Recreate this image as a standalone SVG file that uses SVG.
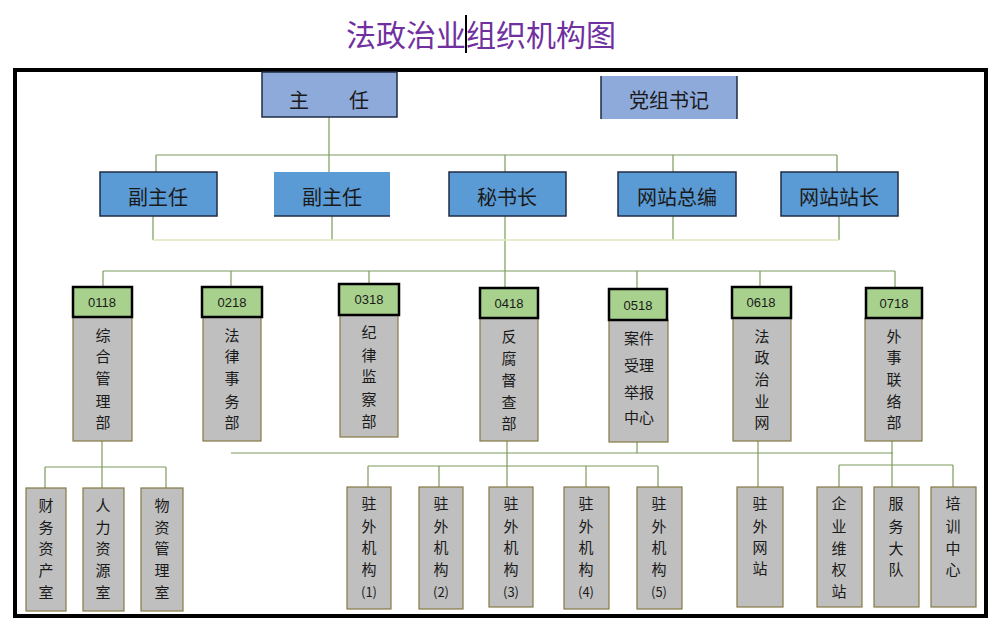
<svg xmlns="http://www.w3.org/2000/svg" width="1000" height="629" viewBox="0 0 1000 629">
<style>
.cjk{font-family:"Noto Sans CJK SC",sans-serif;fill:#1a1a1a;text-anchor:middle}
.t20{font-size:20px}
.t15{font-size:15px}
.num{font-family:"Liberation Sans",sans-serif;font-size:13px;fill:#1a1a1a;text-anchor:middle}
.lb{fill:#8eaadb;stroke:#1f2d44;stroke-width:1.5}
.mb{fill:#5b9bd5;stroke:#1f2d44;stroke-width:1.5}
.gh{fill:#a9d18e;stroke:#000;stroke-width:2.5}
.gb{fill:#bfbfbf;stroke:#857a45;stroke-width:1.2}
.ln{stroke:#7f9a5e;stroke-width:1.2;fill:none}
.lf{stroke:#dbe9bf;stroke-width:1.5;fill:none}
</style>
<rect width="1000" height="629" fill="#fff"/>
<text x="481" y="46" font-family="Noto Sans CJK SC, sans-serif" font-size="30" fill="#7030a0" text-anchor="middle">法政治业组织机构图</text>
<line x1="466" y1="15" x2="466" y2="53" stroke="#000" stroke-width="2"/>
<rect x="15" y="70" width="971" height="546" fill="none" stroke="#000" stroke-width="4"/>

<g id="connectors">
<path class="ln" d="M329 117V155M156 155H837M156 155V172M329 155V172M505 155V172M673 155V172M837 155V172"/>
<path class="ln" d="M153 216V240M332 216V240M673 216V240M839 216V240M505 216V288"/>
<path class="lf" d="M153 240H839"/>
<path class="ln" d="M103 271H895M103 271V287M231 271V287M369 271V284M760 271V287M637 271V289M895 271V288"/>
<path class="ln" d="M102 441V467M45 467H166M45 467V488M102 467V488M166 467V488"/>
<path class="ln" d="M231 453H893M507 441V487M637 442V453M758 441V487M892 441V487"/>
<path class="ln" d="M368 466H658M368 466V487M439 466V487M586 466V487M658 466V487"/>
<path class="ln" d="M839 465H953M839 465V487M953 465V487"/>
</g>

<g id="n-zhuren"><rect class="lb" x="262" y="72" width="135" height="45"/><text class="cjk t20" x="329" y="108">主　　任</text></g>
<g id="n-dangzu"><rect x="601" y="76" width="136" height="43" fill="#8eaadb"/><path d="M601 76V119M737 76V119" stroke="#1f2d44" stroke-width="1.5"/><text class="cjk t20" x="669" y="108">党组书记</text></g>

<g id="n-fzr1"><rect class="mb" x="100" y="172" width="117" height="44"/><text class="cjk t20" x="158" y="205">副主任</text></g>
<g id="n-fzr2"><rect x="274" y="172" width="116" height="44" fill="#5b9bd5"/><path d="M274 216H390" stroke="#1f2d44" stroke-width="1.5"/><text class="cjk t20" x="332" y="205">副主任</text></g>
<g id="n-msz"><rect class="mb" x="449" y="172" width="117" height="44"/><text class="cjk t20" x="507" y="205">秘书长</text></g>
<g id="n-wzzb"><rect class="mb" x="618" y="172" width="118" height="44"/><text class="cjk t20" x="677" y="205">网站总编</text></g>
<g id="n-wzzz"><rect class="mb" x="781" y="172" width="117" height="44"/><text class="cjk t20" x="839" y="205">网站站长</text></g>

<g id="n-0118"><rect class="gb" x="73" y="317" width="59" height="124"/><rect class="gh" x="73" y="287" width="59" height="30"/><text class="num" x="102" y="307">0118</text>
<text class="cjk t15"><tspan x="103" y="341">综</tspan><tspan x="103" y="362">合</tspan><tspan x="103" y="384">管</tspan><tspan x="103" y="407">理</tspan><tspan x="103" y="428">部</tspan></text></g>
<g id="n-0218"><rect class="gb" x="203" y="317" width="58" height="124"/><rect class="gh" x="202" y="287" width="60" height="30"/><text class="num" x="232" y="307">0218</text>
<text class="cjk t15"><tspan x="232" y="341">法</tspan><tspan x="232" y="362">律</tspan><tspan x="232" y="384">事</tspan><tspan x="232" y="407">务</tspan><tspan x="232" y="428">部</tspan></text></g>
<g id="n-0318"><rect class="gb" x="340" y="315" width="58" height="122"/><rect class="gh" x="339" y="284" width="60" height="31"/><text class="num" x="369" y="304">0318</text>
<text class="cjk t15"><tspan x="369" y="338">纪</tspan><tspan x="369" y="361">律</tspan><tspan x="369" y="382">监</tspan><tspan x="369" y="405">察</tspan><tspan x="369" y="427">部</tspan></text></g>
<g id="n-0418"><rect class="gb" x="480" y="318" width="58" height="123"/><rect class="gh" x="480" y="288" width="58" height="30"/><text class="num" x="509" y="308">0418</text>
<text class="cjk t15"><tspan x="509" y="342">反</tspan><tspan x="509" y="364">腐</tspan><tspan x="509" y="386">督</tspan><tspan x="509" y="408">查</tspan><tspan x="509" y="429">部</tspan></text></g>
<g id="n-0518"><rect class="gb" x="609" y="320" width="59" height="122"/><rect class="gh" x="609" y="289" width="58" height="31"/><text class="num" x="638" y="310">0518</text>
<text class="cjk t15"><tspan x="639" y="344">案件</tspan><tspan x="639" y="371">受理</tspan><tspan x="639" y="398">举报</tspan><tspan x="639" y="423">中心</tspan></text></g>
<g id="n-0618"><rect class="gb" x="733" y="318" width="58" height="123"/><rect class="gh" x="732" y="287" width="59" height="31"/><text class="num" x="761" y="307">0618</text>
<text class="cjk t15"><tspan x="762" y="342">法</tspan><tspan x="762" y="363">政</tspan><tspan x="762" y="385">治</tspan><tspan x="762" y="407">业</tspan><tspan x="762" y="428">网</tspan></text></g>
<g id="n-0718"><rect class="gb" x="865" y="318" width="57" height="123"/><rect class="gh" x="866" y="288" width="56" height="30"/><text class="num" x="894" y="308">0718</text>
<text class="cjk t15"><tspan x="894" y="342">外</tspan><tspan x="894" y="363">事</tspan><tspan x="894" y="385">联</tspan><tspan x="894" y="407">络</tspan><tspan x="894" y="428">部</tspan></text></g>

<g id="n-cwzc"><rect class="gb" x="26" y="488" width="40" height="123"/><text class="cjk t15"><tspan x="46" y="511">财</tspan><tspan x="46" y="533">务</tspan><tspan x="46" y="554">资</tspan><tspan x="46" y="576">产</tspan><tspan x="46" y="598">室</tspan></text></g>
<g id="n-rlzy"><rect class="gb" x="83" y="488" width="41" height="123"/><text class="cjk t15"><tspan x="103" y="511">人</tspan><tspan x="103" y="533">力</tspan><tspan x="103" y="554">资</tspan><tspan x="103" y="576">源</tspan><tspan x="103" y="598">室</tspan></text></g>
<g id="n-wzgl"><rect class="gb" x="141" y="488" width="42" height="123"/><text class="cjk t15"><tspan x="162" y="511">物</tspan><tspan x="162" y="533">资</tspan><tspan x="162" y="554">管</tspan><tspan x="162" y="576">理</tspan><tspan x="162" y="598">室</tspan></text></g>

<g id="n-zw1"><rect class="gb" x="347" y="487" width="44" height="122"/><text class="cjk t15"><tspan x="369" y="509">驻</tspan><tspan x="369" y="532">外</tspan><tspan x="369" y="553">机</tspan><tspan x="369" y="575">构</tspan><tspan x="369" y="597" font-size="13">(1)</tspan></text></g>
<g id="n-zw2"><rect class="gb" x="419" y="487" width="44" height="122"/><text class="cjk t15"><tspan x="441" y="509">驻</tspan><tspan x="441" y="532">外</tspan><tspan x="441" y="553">机</tspan><tspan x="441" y="575">构</tspan><tspan x="441" y="597" font-size="13">(2)</tspan></text></g>
<g id="n-zw3"><rect class="gb" x="489" y="487" width="44" height="120"/><text class="cjk t15"><tspan x="511" y="509">驻</tspan><tspan x="511" y="532">外</tspan><tspan x="511" y="553">机</tspan><tspan x="511" y="575">构</tspan><tspan x="511" y="597" font-size="13">(3)</tspan></text></g>
<g id="n-zw4"><rect class="gb" x="564" y="487" width="45" height="122"/><text class="cjk t15"><tspan x="586" y="509">驻</tspan><tspan x="586" y="532">外</tspan><tspan x="586" y="553">机</tspan><tspan x="586" y="575">构</tspan><tspan x="586" y="597" font-size="13">(4)</tspan></text></g>
<g id="n-zw5"><rect class="gb" x="637" y="487" width="45" height="122"/><text class="cjk t15"><tspan x="659" y="509">驻</tspan><tspan x="659" y="532">外</tspan><tspan x="659" y="553">机</tspan><tspan x="659" y="575">构</tspan><tspan x="659" y="597" font-size="13">(5)</tspan></text></g>
<g id="n-zwwz"><rect class="gb" x="737" y="487" width="46" height="120"/><text class="cjk t15"><tspan x="760" y="509">驻</tspan><tspan x="760" y="532">外</tspan><tspan x="760" y="553">网</tspan><tspan x="760" y="574">站</tspan></text></g>
<g id="n-qywq"><rect class="gb" x="817" y="487" width="45" height="120"/><text class="cjk t15"><tspan x="839" y="509">企</tspan><tspan x="839" y="532">业</tspan><tspan x="839" y="554">维</tspan><tspan x="839" y="575">权</tspan><tspan x="839" y="597">站</tspan></text></g>
<g id="n-fwdd"><rect class="gb" x="874" y="487" width="45" height="120"/><text class="cjk t15"><tspan x="896" y="509">服</tspan><tspan x="896" y="532">务</tspan><tspan x="896" y="554">大</tspan><tspan x="896" y="575">队</tspan></text></g>
<g id="n-pxzx"><rect class="gb" x="931" y="487" width="45" height="120"/><text class="cjk t15"><tspan x="953" y="509">培</tspan><tspan x="953" y="532">训</tspan><tspan x="953" y="554">中</tspan><tspan x="953" y="575">心</tspan></text></g>
</svg>
